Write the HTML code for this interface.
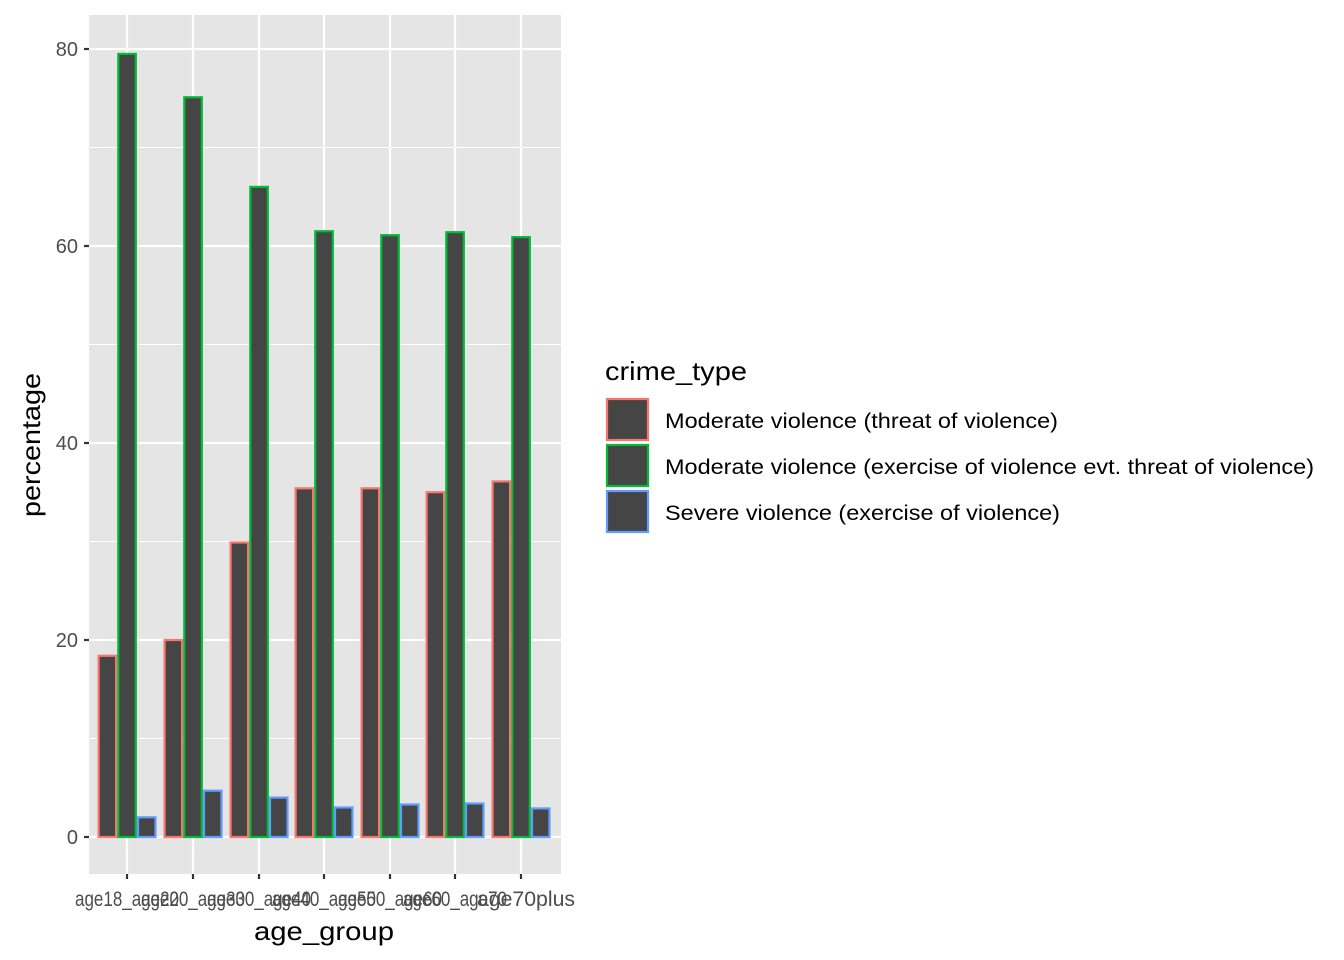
<!DOCTYPE html>
<html><head><meta charset="utf-8"><style>body{margin:0;background:#fff}svg{display:block}</style></head>
<body>
<svg id="s" width="1344" height="960" xmlns="http://www.w3.org/2000/svg" font-family="Liberation Sans, Arial, sans-serif">
<rect x="89" y="15" width="472" height="859" fill="#e5e5e5"/>
<g stroke="#fff" stroke-width="1.1">
<line x1="89" x2="561" y1="738.5" y2="738.5"/><line x1="89" x2="561" y1="541.5" y2="541.5"/><line x1="89" x2="561" y1="344.5" y2="344.5"/><line x1="89" x2="561" y1="147.5" y2="147.5"/>
</g>
<g stroke="#fff" stroke-width="2.2">
<line x1="89" x2="561" y1="837" y2="837"/><line x1="89" x2="561" y1="640" y2="640"/><line x1="89" x2="561" y1="443" y2="443"/><line x1="89" x2="561" y1="246" y2="246"/><line x1="89" x2="561" y1="49" y2="49"/>
<line x1="127" x2="127" y1="15" y2="874"/><line x1="193" x2="193" y1="15" y2="874"/><line x1="259" x2="259" y1="15" y2="874"/><line x1="324" x2="324" y1="15" y2="874"/><line x1="390" x2="390" y1="15" y2="874"/><line x1="455" x2="455" y1="15" y2="874"/><line x1="521" x2="521" y1="15" y2="874"/>
</g>
<g id="bars"></g>
<g stroke="#333" stroke-width="2.2">
<line x1="84" x2="89" y1="837" y2="837"/><line x1="84" x2="89" y1="640" y2="640"/><line x1="84" x2="89" y1="443" y2="443"/><line x1="84" x2="89" y1="246" y2="246"/><line x1="84" x2="89" y1="49" y2="49"/>
<line x1="127" x2="127" y1="874" y2="879"/><line x1="193" x2="193" y1="874" y2="879"/><line x1="259" x2="259" y1="874" y2="879"/><line x1="324" x2="324" y1="874" y2="879"/><line x1="390" x2="390" y1="874" y2="879"/><line x1="455" x2="455" y1="874" y2="879"/><line x1="521" x2="521" y1="874" y2="879"/>
</g>
<g fill="#4d4d4d" font-size="20" text-anchor="end">
<text x="78" y="844">0</text><text x="78" y="647">20</text><text x="78" y="450">40</text><text x="78" y="253">60</text><text x="78" y="56">80</text>
</g>
<g fill="#4d4d4d" font-size="21" text-anchor="middle">
<text x="127" y="906" textLength="104" lengthAdjust="spacingAndGlyphs">age18_age20</text><text x="193" y="906" textLength="104" lengthAdjust="spacingAndGlyphs">age20_age30</text><text x="259" y="906" textLength="104" lengthAdjust="spacingAndGlyphs">age30_age40</text><text x="324" y="906" textLength="104" lengthAdjust="spacingAndGlyphs">age40_age50</text><text x="390" y="906" textLength="104" lengthAdjust="spacingAndGlyphs">age50_age60</text><text x="455" y="906" textLength="104" lengthAdjust="spacingAndGlyphs">age60_age70</text><text x="526" y="906" textLength="98" lengthAdjust="spacingAndGlyphs">age70plus</text>
</g>
<text x="254" y="940" font-size="26" textLength="140" lengthAdjust="spacingAndGlyphs">age_group</text>
<text transform="translate(40,517) rotate(-90)" font-size="26" textLength="144" lengthAdjust="spacingAndGlyphs">percentage</text>
<text x="605" y="380" font-size="26" textLength="142" lengthAdjust="spacingAndGlyphs">crime_type</text>
<rect x="607" y="399" width="41" height="41" fill="#454545" stroke="#f8766d" stroke-width="2.2"/>
<rect x="607" y="445" width="41" height="41" fill="#454545" stroke="#00ba38" stroke-width="2.2"/>
<rect x="607" y="491" width="41" height="41" fill="#454545" stroke="#619cff" stroke-width="2.2"/>
<g font-size="21" fill="#000">
<text x="665" y="428" textLength="393" lengthAdjust="spacingAndGlyphs">Moderate violence (threat of violence)</text>
<text x="665" y="474" textLength="649" lengthAdjust="spacingAndGlyphs">Moderate violence (exercise of violence evt. threat of violence)</text>
<text x="665" y="520" textLength="395" lengthAdjust="spacingAndGlyphs">Severe violence (exercise of violence)</text>
</g>
</svg>
<script>
var d=[[18.4,79.5,2.0],[20.0,75.1,4.7],[29.9,66.0,4.0],[35.4,61.5,3.0],[35.4,61.1,3.3],[35.0,61.4,3.4],[36.1,60.9,2.9]];
var c=["#f8766d","#00ba38","#619cff"],cx=[127,193,259,324,390,455,521],w=19.7,h="";
d.forEach(function(r,i){r.forEach(function(v,j){var x=cx[i]-29.5+j*w,y=837-v*9.85;
h+='<rect x="'+(x+1.1)+'" y="'+y+'" width="'+(w-2.2)+'" height="'+(837-y)+'" fill="#454545" stroke="'+c[j]+'" stroke-width="2.2"/>';});});
document.getElementById("bars").innerHTML=h;
</script>
</body></html>
